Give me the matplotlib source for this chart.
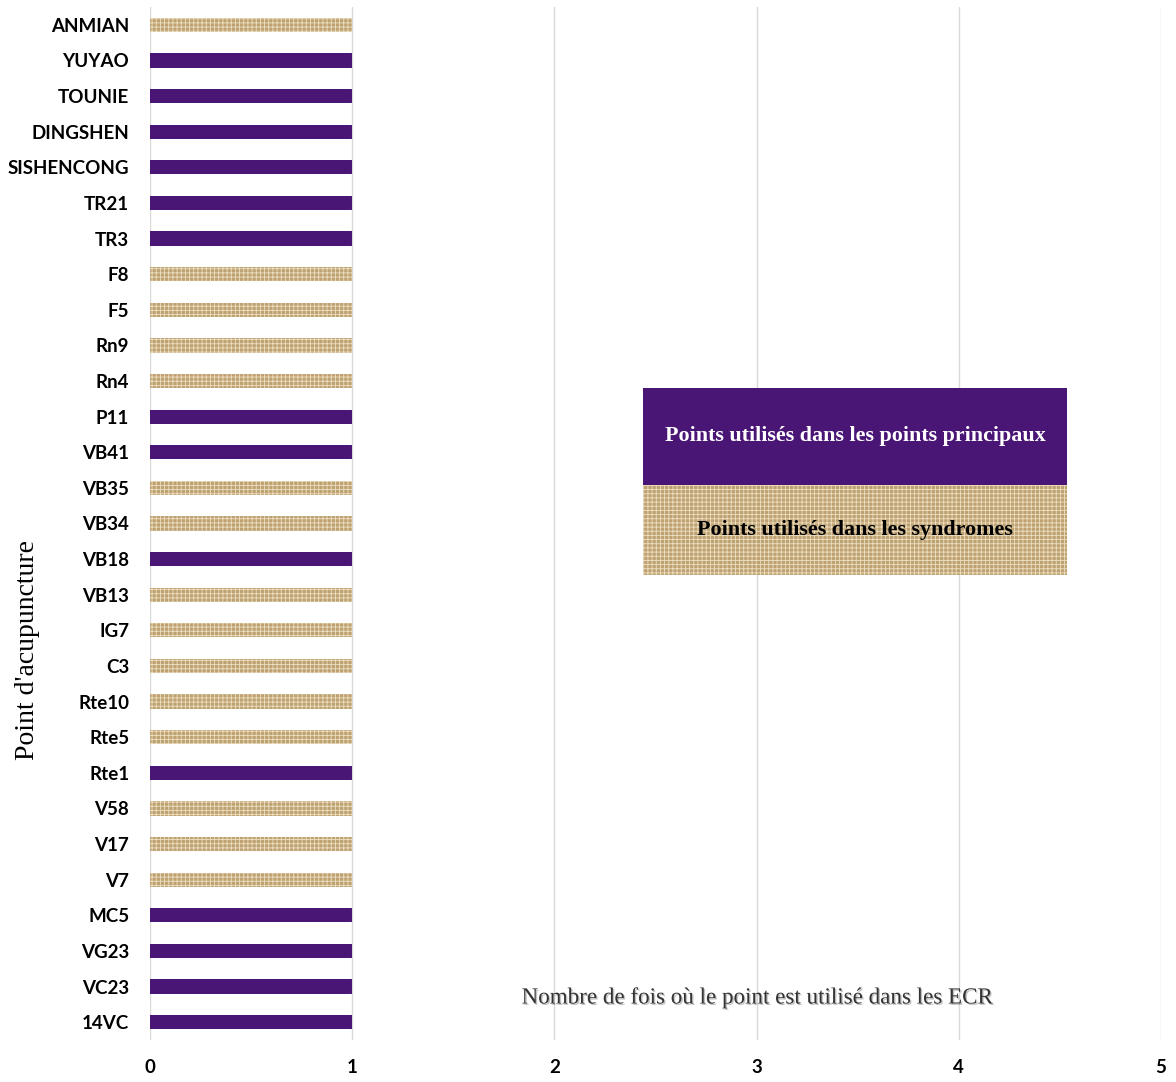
import matplotlib
matplotlib.use('Agg')
import matplotlib.pyplot as plt
from matplotlib.patches import Rectangle
import matplotlib.patheffects as pe

# points from bottom to top
points = ['14VC', 'VC23', 'VG23', 'MC5', 'V7', 'V17', 'V58', 'Rte1', 'Rte5', 'Rte10',
          'C3', 'IG7', 'VB13', 'VB18', 'VB34', 'VB35', 'VB41', 'P11', 'Rn4', 'Rn9',
          'F5', 'F8', 'TR3', 'TR21', 'SISHENCONG', 'DINGSHEN', 'TOUNIE', 'YUYAO', 'ANMIAN']
counts = [1] * len(points)
# 'P' = principal points, 'S' = syndromes
groups = ['P', 'P', 'P', 'P', 'S', 'S', 'S', 'P', 'S', 'S',
          'S', 'S', 'S', 'P', 'S', 'S', 'P', 'P', 'S', 'S',
          'S', 'S', 'P', 'P', 'P', 'P', 'P', 'P', 'S']
legend_labels = ['Points utilisés dans les points principaux', 'Points utilisés dans les syndromes']
xticks = [0, 1, 2, 3, 4, 5]

PURPLE = '#4a1676'
TAN = '#bfa274'
TAN_HATCH = '#ecdfbf'

plt.rcParams['hatch.linewidth'] = 0.6

fig = plt.figure(figsize=(11.76, 10.82), dpi=100)
ax = fig.add_axes([150 / 1176, 1 - 1040 / 1082, 1011 / 1176, 1033 / 1082])

for i, (p, c, g) in enumerate(zip(points, counts, groups)):
    if g == 'P':
        ax.barh(i, c, height=0.4, color=PURPLE, linewidth=0, zorder=3)
    else:
        ax.barh(i, c, height=0.4, color=TAN, edgecolor=TAN_HATCH, hatch='++++',
                linewidth=0, zorder=3)

ax.set_xlim(0, 5)
ax.set_ylim(-0.5, len(points) - 0.5)
ax.set_xticks(xticks)
ax.set_yticks(range(len(points)))
ax.set_yticklabels(points)
for s in ax.spines.values():
    s.set_visible(False)
ax.grid(axis='x', color='#d9d9d9', linewidth=1, zorder=0)
ax.tick_params(length=0)
ax.tick_params(axis='y', pad=15)
ax.tick_params(axis='x', pad=14)
for lab in ax.get_yticklabels() + ax.get_xticklabels():
    lab.set_fontfamily('Lato')
    lab.set_fontweight('bold')
    lab.set_fontsize(13.5)

# legend drawn as two stacked blocks
x0 = (643 - 150) / 1011
w = (1067 - 643) / 1011
y_mid = (1040 - 485) / 1033
h_top = (485 - 388) / 1033
h_bot = (575 - 485) / 1033
ax.add_patch(Rectangle((x0, y_mid), w, h_top, transform=ax.transAxes,
                       facecolor=PURPLE, linewidth=0, zorder=4))
ax.add_patch(Rectangle((x0, y_mid - h_bot), w, h_bot, transform=ax.transAxes,
                       facecolor=TAN, edgecolor=TAN_HATCH, hatch='++++',
                       linewidth=0, zorder=4))
ax.text(x0 + w / 2, y_mid + h_top / 2, legend_labels[0], transform=ax.transAxes,
        ha='center', va='center', color='white', fontsize=15.8, fontweight='bold',
        family='Liberation Serif', zorder=5)
ax.text(x0 + w / 2, y_mid - h_bot / 2, legend_labels[1], transform=ax.transAxes,
        ha='center', va='center', color='black', fontsize=15.8, fontweight='bold',
        family='Liberation Serif', zorder=5)

ax.text((757 - 150) / 1011, (1040 - 998) / 1033,
        "Nombre de fois où le point est utilisé dans les ECR", transform=ax.transAxes,
        ha='center', va='center', fontsize=16.6, color='#333333', family='Liberation Serif',
        path_effects=[pe.withSimplePatchShadow(offset=(1, -1), shadow_rgbFace='#999999', alpha=0.6)],
        zorder=5)

fig.text(28 / 1176, 1 - 650 / 1082, "Point d'acupuncture", rotation=90,
         ha='center', va='center', fontsize=20, family='Liberation Serif')

fig.savefig('out.png', dpi=100)
